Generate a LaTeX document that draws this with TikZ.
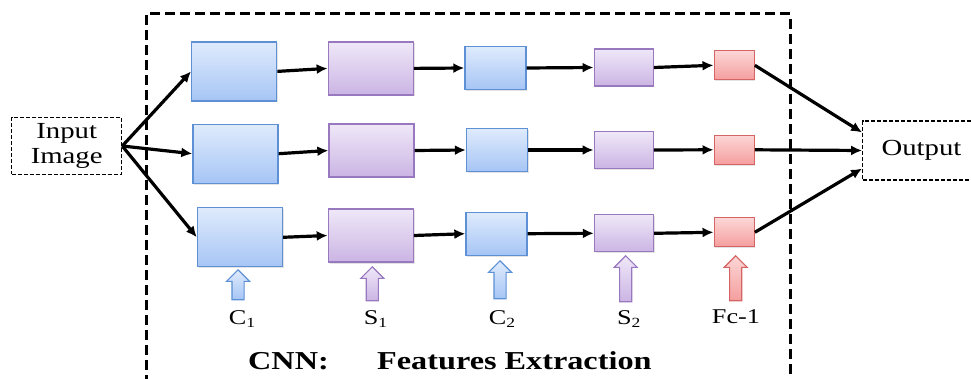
\documentclass[tikz,border=0pt]{standalone}
\usepackage{fontspec}
\setmainfont{Liberation Serif}[FakeStretch=1.25]
\usetikzlibrary{arrows.meta,shapes.arrows,shadows,calc}
\definecolor{bluT}{HTML}{DFEBFC}
\definecolor{bluB}{HTML}{A6C5F5}
\definecolor{bluD}{HTML}{5E90D6}
\definecolor{purT}{HTML}{EFE8F8}
\definecolor{purB}{HTML}{CBB4E4}
\definecolor{purD}{HTML}{9878BF}
\definecolor{redT}{HTML}{FCD6D6}
\definecolor{redB}{HTML}{F59E9E}
\definecolor{redD}{HTML}{D56565}
\newcommand{\sbs}[1]{\raisebox{-3.5pt}{\fontsize{14}{14}\selectfont #1}}
\begin{document}
\begin{tikzpicture}[x=1pt,y=-1pt,
  box/.style={rectangle, line width=1.3pt, inner sep=0pt,
    drop shadow={shadow xshift=1.2pt, shadow yshift=-1.5pt, opacity=0.22}},
  conv/.style={box, draw=bluD, top color=bluT, bottom color=bluB},
  pool/.style={box, draw=purD, top color=purT, bottom color=purB},
  fcbox/.style={box, draw=redD, top color=redT, bottom color=redB,
    minimum width=40pt, minimum height=29pt},
  cbig/.style={conv, minimum width=85pt, minimum height=59pt},
  pbig/.style={pool, minimum width=85pt, minimum height=53pt},
  csmall/.style={conv, minimum width=61pt, minimum height=43pt},
  psmall/.style={pool, minimum width=59pt, minimum height=37pt},
  link/.style={line width=3.2pt, -{Latex[length=11pt,width=10pt]}},
  uparrow/.style={single arrow, shape border rotate=90, inner sep=5.5pt,
    single arrow head extend=5.5pt, line width=1.1pt, anchor=tip},
  lbl/.style={anchor=base, inner sep=0pt, font=\fontsize{21}{21}\selectfont},
  ttl/.style={anchor=base west, inner sep=0pt, font=\fontsize{25.8}{26}\selectfont\bfseries},
  iobox/.style={draw, line width=1.1pt, dash pattern=on 4pt off 2pt, inner sep=0pt,
    align=center, font=\fontsize{23}{25}\selectfont}
]
\clip (0,0) rectangle (971,379);
\useasboundingbox (0,0) rectangle (971,379);

% big dashed frame
\draw[line width=3pt, dash pattern=on 10pt off 5pt] (146,400) -- (146,14) -- (790,14) -- (790,400);

% input / output
\node[iobox, minimum width=110pt, minimum height=56.6pt] (in) at (66.7,146) {Input\\Image};
\node[iobox, minimum width=117.6pt, minimum height=59pt] (out) at (921.5,150.5) {Output};

% row 1
\node[cbig]   (c1a) at (234.2,71.4) {};
\node[pbig]   (s1a) at (370.8,68.4) {};
\node[csmall] (c2a) at (495.5,68) {};
\node[psmall] (s2a) at (623.7,67.5) {};
\node[fcbox]  (fa)  at (734.2,65.3) {};
% row 2
\node[cbig]   (c1b) at (235.5,153.7) {};
\node[pbig]   (s1b) at (371.5,150.5) {};
\node[csmall] (c2b) at (497,150) {};
\node[psmall] (s2b) at (623.7,150) {};
\node[fcbox]  (fb)  at (734.2,149.8) {};
% row 3
\node[cbig]   (c1c) at (240,237.3) {};
\node[pbig]   (s1c) at (370.8,235.5) {};
\node[csmall] (c2c) at (496.5,233.7) {};
\node[psmall] (s2c) at (624,233.3) {};
\node[fcbox]  (fc)  at (734.2,232.3) {};

% connectors
\draw[link] (in.east) -- (c1a.west);
\draw[link] (in.east) -- (c1b.west);
\draw[link] (in.east) -- (c1c.west);
\foreach \r in {a,b,c}{
  \draw[link] (c1\r.east) -- (s1\r.west);
  \draw[link] (s1\r.east) -- (c2\r.west);
  \draw[link] (c2\r.east) -- (s2\r.west);
  \draw[link] (s2\r.east) -- (f\r.west);
}
\draw[link] (fa.east) -- ([yshift=18pt]out.west);
\draw[link] (fb.east) -- (out.west);
\draw[link] (fc.east) -- ([yshift=-18pt]out.west);

% block arrows
\node[uparrow, draw=bluD, top color=bluT, bottom color=bluB, minimum height=30pt] (ac1) at (238,269) {};
\node[uparrow, draw=purD, top color=purT, bottom color=purB, minimum height=34pt] (as1) at (372.3,266) {};
\node[uparrow, draw=bluD, top color=bluT, bottom color=bluB, minimum height=38pt] (ac2) at (500,260) {};
\node[uparrow, draw=purD, top color=purT, bottom color=purB, minimum height=46pt] (as2) at (625.7,255) {};
\node[uparrow, draw=redD, top color=redT, bottom color=redB, minimum height=45pt] (afc) at (735.7,255) {};

% labels
\node[lbl] (lc1) at (242,324) {C\sbs{1}};
\node[lbl] (ls1) at (375.5,324) {S\sbs{1}};
\node[lbl] (lc2) at (502,324) {C\sbs{2}};
\node[lbl] (ls2) at (628.7,324) {S\sbs{2}};
\node[lbl] (lfc) at (736,323) {Fc-1};

% title
\node[ttl] (cnn) at (248,369) {CNN:};
\node[ttl] (fe)  at (377,369) {Features Extraction};
\end{tikzpicture}
\end{document}
